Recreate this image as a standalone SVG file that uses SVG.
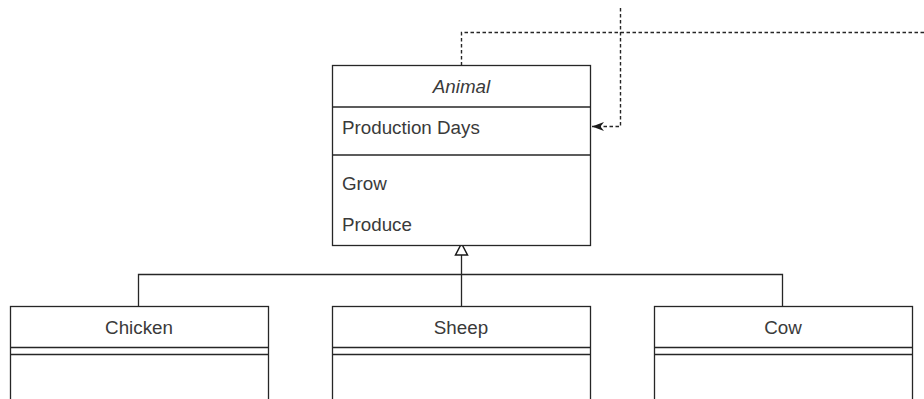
<svg xmlns="http://www.w3.org/2000/svg" width="924" height="399" viewBox="0 0 924 399">
  <style>
    .box { fill: #ffffff; stroke: #262626; stroke-width: 1.3; }
    .sep { fill: none; stroke: #262626; stroke-width: 1.3; }
    .lbl { font-family: "Liberation Sans", Arial, sans-serif; font-size: 18.8px; fill: #3a3a3a; }
    .mid { text-anchor: middle; }
    .ital { font-style: italic; }
    .edge { fill: none; stroke: #262626; stroke-width: 1.3; }
    .dash { fill: none; stroke: #262626; stroke-width: 1.4; stroke-dasharray: 3.5 2.5; }
  </style>
  <defs>
    <marker id="arrowFilled" markerWidth="13" markerHeight="11" refX="12" refY="5.5" orient="auto" markerUnits="userSpaceOnUse">
      <path d="M0,1 L12,5.5 L0,10 L3.5,5.5 Z" fill="#1a1a1a"/>
    </marker>
  </defs>

  <!-- connectors -->
  <g id="connectors">
    <!-- dashed dependency loop -->
    <path class="dash" d="M461.5,65.5 V32.5 H924"/>
    <path class="dash" d="M620.5,8 V126.5 H592" marker-end="url(#arrowFilled)"/>
    <!-- generalization tree -->
    <path class="edge" d="M461.5,306.5 V255"/>
    <path class="edge" d="M138.5,306.5 V274.5 H782.5 V306.5"/>
    <path d="M461.5,243.5 L467.5,255 L455.5,255 Z" fill="#ffffff" stroke="#1a1a1a" stroke-width="1.5"/>
  </g>

  <!-- abstract class Animal -->
  <g id="animal">
    <rect class="box" x="332.5" y="65.5" width="258" height="180"/>
    <line class="sep" x1="332.5" y1="107" x2="590.5" y2="107"/>
    <line class="sep" x1="332.5" y1="155" x2="590.5" y2="155"/>
    <text class="lbl mid ital" x="461.5" y="93">Animal</text>
    <text class="lbl" x="342" y="133.5">Production Days</text>
    <text class="lbl" x="342" y="189.5">Grow</text>
    <text class="lbl" x="342" y="230.5">Produce</text>
  </g>

  <!-- subclass Chicken -->
  <g id="chicken">
    <rect class="box" x="10.5" y="306.5" width="258" height="110"/>
    <line class="sep" x1="10.5" y1="347.5" x2="268.5" y2="347.5"/>
    <line class="sep" x1="10.5" y1="354.5" x2="268.5" y2="354.5"/>
    <text class="lbl mid" x="139" y="334">Chicken</text>
  </g>

  <!-- subclass Sheep -->
  <g id="sheep">
    <rect class="box" x="332.5" y="306.5" width="258" height="110"/>
    <line class="sep" x1="332.5" y1="347.5" x2="590.5" y2="347.5"/>
    <line class="sep" x1="332.5" y1="354.5" x2="590.5" y2="354.5"/>
    <text class="lbl mid" x="461" y="334">Sheep</text>
  </g>

  <!-- subclass Cow -->
  <g id="cow">
    <rect class="box" x="654.5" y="306.5" width="258" height="110"/>
    <line class="sep" x1="654.5" y1="347.5" x2="912.5" y2="347.5"/>
    <line class="sep" x1="654.5" y1="354.5" x2="912.5" y2="354.5"/>
    <text class="lbl mid" x="783" y="334">Cow</text>
  </g>
</svg>
